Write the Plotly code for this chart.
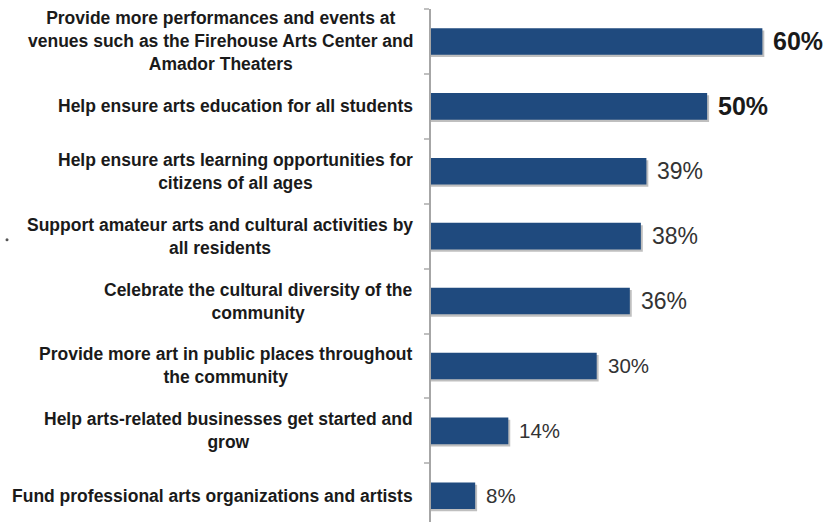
import plotly.graph_objects as go

categories = [
    "Provide more performances and events at<br>venues such as the Firehouse Arts Center and<br>Amador Theaters",
    "Help ensure arts education for all students",
    "Help ensure arts learning opportunities for<br>citizens of all ages",
    "Support amateur arts and cultural activities by<br>all residents",
    "Celebrate the cultural diversity of the<br>community",
    "Provide more art in public places throughout<br>the community",
    "Help arts-related businesses get started and<br>grow",
    "Fund professional arts organizations and artists",
]
values = [60, 50, 39, 38, 36, 30, 14, 8]
value_labels = ["60%", "50%", "39%", "38%", "36%", "30%", "14%", "8%"]

# styles for the value labels
label_sizes = [25, 25, 23, 23, 23, 20.5, 20.5, 20.5]
label_bold = [True, True, False, False, False, False, False, False]

BAR = "#1F4A7E"
FONT = "Liberation Sans, Arial, sans-serif"

W, H = 827, 522
LEFT, TOP = 431, 9
plot_w = W - LEFT

fig = go.Figure()

# soft shadow behind bars
fig.add_trace(go.Bar(
    y=categories, x=[v + 0.35 for v in values], orientation="h",
    marker=dict(color="rgba(0,0,0,0.25)", line=dict(width=0)),
    width=0.41, offset=-0.205 + 0.035,
    hoverinfo="skip", showlegend=False,
))
fig.add_trace(go.Bar(
    y=categories, x=values, orientation="h",
    marker=dict(color=BAR, line=dict(width=0)),
    width=0.41, offset=-0.205,
    showlegend=False,
))

annotations = []
for cat in categories:
    annotations.append(dict(
        xref="paper", x=0, xanchor="right", xshift=-16,
        yref="y", y=cat, yanchor="middle",
        text="<b>" + cat + "</b>", align="center", showarrow=False,
        font=dict(family=FONT, size=17.5, color="#1a1a1a"),
    ))
for cat, v, lab, sz, b in zip(categories, values, value_labels, label_sizes, label_bold):
    annotations.append(dict(
        xref="x", x=v, xanchor="left", xshift=9,
        yref="y", y=cat, yanchor="middle",
        text=("<b>" + lab + "</b>") if b else lab, showarrow=False,
        font=dict(family=FONT, size=sz, color="#1a1a1a" if b else "#333333"),
    ))

fig.update_layout(
    width=W, height=H,
    margin=dict(l=LEFT, r=0, t=TOP, b=0, pad=0),
    paper_bgcolor="white", plot_bgcolor="white",
    barmode="overlay",
    annotations=annotations,
    shapes=[dict(
        type="circle", xref="paper", xsizemode="pixel", xanchor=(7 - LEFT) / plot_w,
        x0=-1.5, x1=1.5, yref="y", ysizemode="pixel", yanchor=3, y0=-5, y1=-2,
        fillcolor="#555555", line=dict(width=0),
    )],
    xaxis=dict(range=[0, 71.7], visible=False, showgrid=False, zeroline=False),
    yaxis=dict(
        type="category", categoryorder="array", categoryarray=categories,
        range=[7.404, -0.5],
        showticklabels=False, showgrid=False, zeroline=False,
        showline=True, linecolor="#A6A6A6", linewidth=1.5,
        ticks="outside", tickson="boundaries", ticklen=5, tickcolor="#C0C0C0", tickwidth=1.5,
    ),
)

fig.write_html(
    "out.html",
    config={"displayModeBar": False},
    post_script="document.body.style.margin='0';document.body.style.overflow='hidden';",
)
